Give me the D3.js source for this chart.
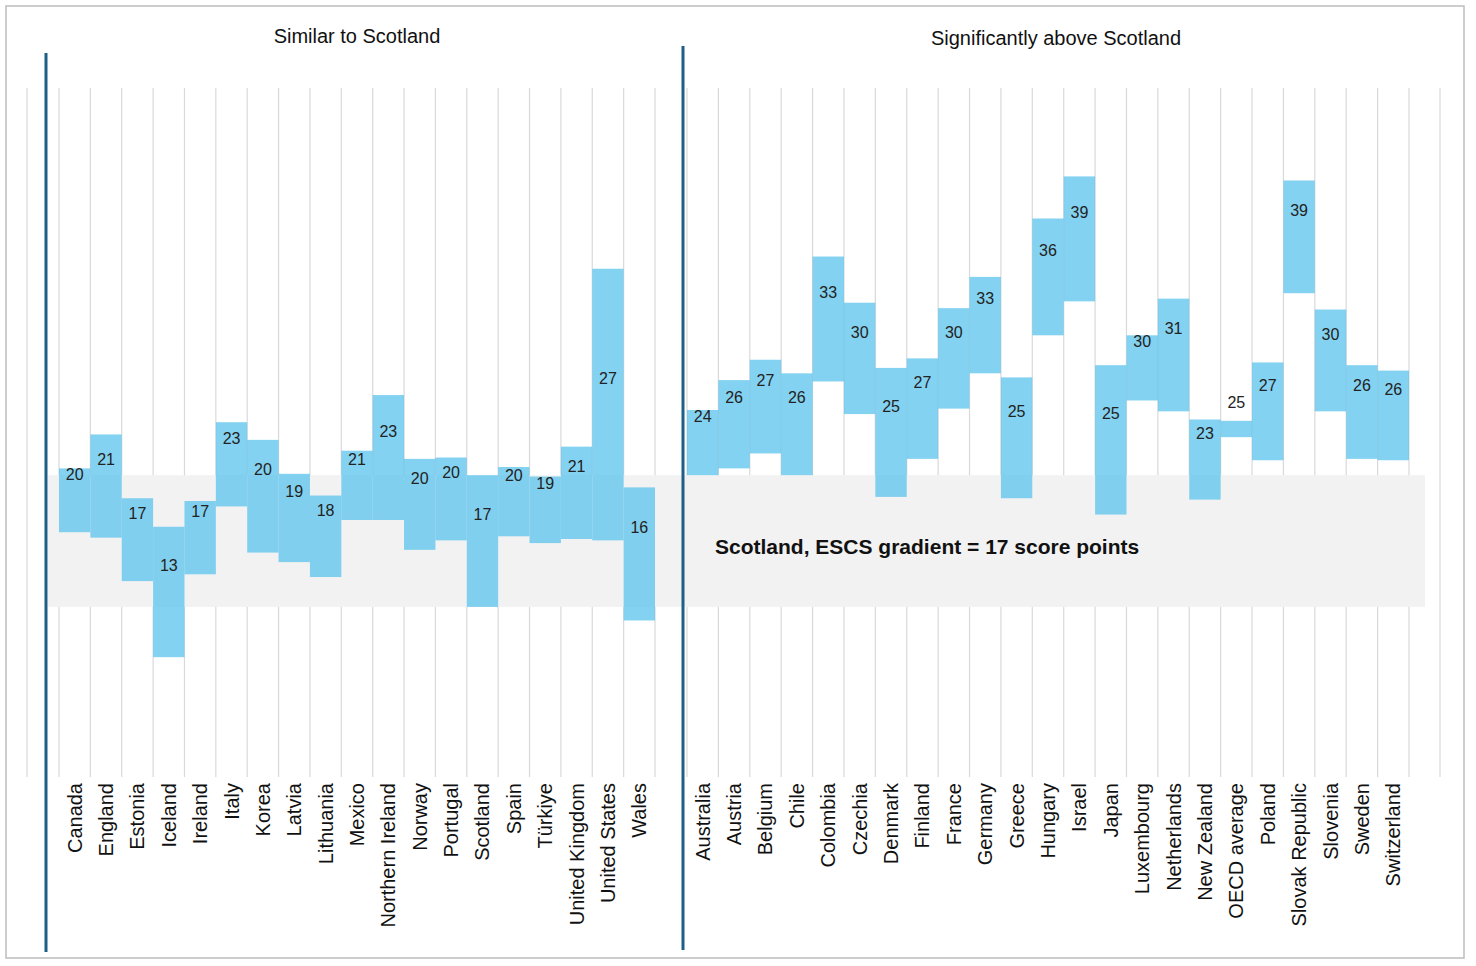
<!DOCTYPE html>
<html><head><meta charset="utf-8">
<script src="https://cdn.jsdelivr.net/npm/d3@7"></script>
<style>body{margin:0;background:#fff;font-family:"Liberation Sans",Arial,sans-serif}</style>
</head><body><div id="chart"></div>
<script>
// Similar to Scotland
const leftNames = ["Canada","England","Estonia","Iceland","Ireland","Italy","Korea","Latvia","Lithuania","Mexico","Northern Ireland","Norway","Portugal","Scotland","Spain","Türkiye","United Kingdom","United States","Wales"];
const leftValues = [20,21,17,13,17,23,20,19,18,21,23,20,20,17,20,19,21,27,16];
const leftLow  = [17.4,17.0,13.8,8.2,14.3,19.3,15.9,15.2,14.1,18.3,18.3,16.1,16.8,11.9,17.1,16.6,16.9,16.8,10.9];
const leftHigh = [22.1,24.6,19.9,17.8,19.7,25.5,24.2,21.7,20.1,23.4,27.5,22.8,22.9,21.6,22.2,21.5,23.7,36.8,20.7];
// Significantly above Scotland
const rightNames = ["Australia","Austria","Belgium","Chile","Colombia","Czechia","Denmark","Finland","France","Germany","Greece","Hungary","Israel","Japan","Luxembourg","Netherlands","New Zealand","OECD average","Poland","Slovak Republic","Slovenia","Sweden","Switzerland"];
const rightValues = [24,26,27,26,33,30,25,27,30,33,25,36,39,25,30,31,23,25,27,39,30,26,26];
const rightLow  = [21.6,22.1,23.2,21.6,28.5,26.1,20.0,22.8,26.5,29.1,19.9,31.9,34.4,18.7,27.1,26.3,19.8,24.4,22.7,35.0,26.3,22.8,22.7];
const rightHigh = [26.4,28.6,30.1,29.1,37.7,34.3,29.5,30.2,33.9,36.2,28.8,40.5,43.6,29.7,31.9,34.6,25.7,25.6,29.9,43.3,33.8,29.7,29.3];
const scotlandBand = [11.9, 21.6];

const W = 1476, H = 966;
const svg = d3.select("#chart").append("svg").attr("width", W).attr("height", H);
svg.append("rect").attr("x",6).attr("y",6).attr("width",1458).attr("height",952)
  .attr("fill","none").attr("stroke","#bdbdbd").attr("stroke-width",1.5);

const y = d3.scaleLinear().domain([0, 50]).range([768.5, 768.5 - 50*13.58]);
const xl = d3.scaleBand().domain(leftNames).range([59, 655]);
const xr = d3.scaleBand().domain(rightNames).range([687, 1409]);

// grid lines
const gx = [27, ...leftNames.map(d => xl(d)), 655, ...rightNames.map(d => xr(d)), 1409, 1440];
svg.selectAll("line.grid").data(gx).enter().append("line")
  .attr("x1", d => d).attr("x2", d => d).attr("y1", 88).attr("y2", 777)
  .attr("stroke", "#d9d9d9").attr("stroke-width", 1.2);

// Scotland band
svg.append("rect").attr("x",48).attr("width",1377)
  .attr("y", y(scotlandBand[1])).attr("height", y(scotlandBand[0]) - y(scotlandBand[1]))
  .attr("fill","#f2f2f2");

function group(names, vals, lo, hi, x) {
  const data = names.map((n,i) => ({n, v: vals[i], lo: lo[i], hi: hi[i]}));
  svg.append("g").selectAll("rect").data(data).enter().append("rect")
    .attr("x", d => x(d.n)).attr("width", x.bandwidth())
    .attr("y", d => y(d.hi)).attr("height", d => y(d.lo) - y(d.hi))
    .attr("fill", "#5bc3ec").attr("opacity", 0.75);
  svg.append("g").selectAll("text").data(data).enter().append("text")
    .attr("x", d => x(d.n) + x.bandwidth()/2)
    .attr("y", d => (y(d.lo) + y(d.hi))/2 - 25)
    .attr("text-anchor","middle").attr("dominant-baseline","middle")
    .attr("font-size", 16).attr("fill","#222").text(d => d.v);
  svg.append("g").selectAll("text").data(data).enter().append("text")
    .attr("transform", d => `translate(${x(d.n) + x.bandwidth()/2 + 7},783) rotate(-90)`)
    .attr("text-anchor","end").attr("font-size", 20).attr("fill","#111").text(d => d.n);
}
group(leftNames, leftValues, leftLow, leftHigh, xl);
group(rightNames, rightValues, rightLow, rightHigh, xr);

svg.append("text").attr("x",715).attr("y",548).attr("dominant-baseline","middle")
  .attr("font-size",21).attr("font-weight","bold").attr("fill","#111")
  .text("Scotland, ESCS gradient = 17 score points");

svg.append("line").attr("x1",46).attr("x2",46).attr("y1",53).attr("y2",952)
  .attr("stroke","#1f5f85").attr("stroke-width",3);
svg.append("line").attr("x1",683).attr("x2",683).attr("y1",46).attr("y2",950)
  .attr("stroke","#1f5f85").attr("stroke-width",3);

svg.append("text").attr("x",357).attr("y",38).attr("text-anchor","middle").attr("dominant-baseline","middle")
  .attr("font-size",20).attr("fill","#111").text("Similar to Scotland");
svg.append("text").attr("x",1056).attr("y",40).attr("text-anchor","middle").attr("dominant-baseline","middle")
  .attr("font-size",20).attr("fill","#111").text("Significantly above Scotland");
</script></body></html>
